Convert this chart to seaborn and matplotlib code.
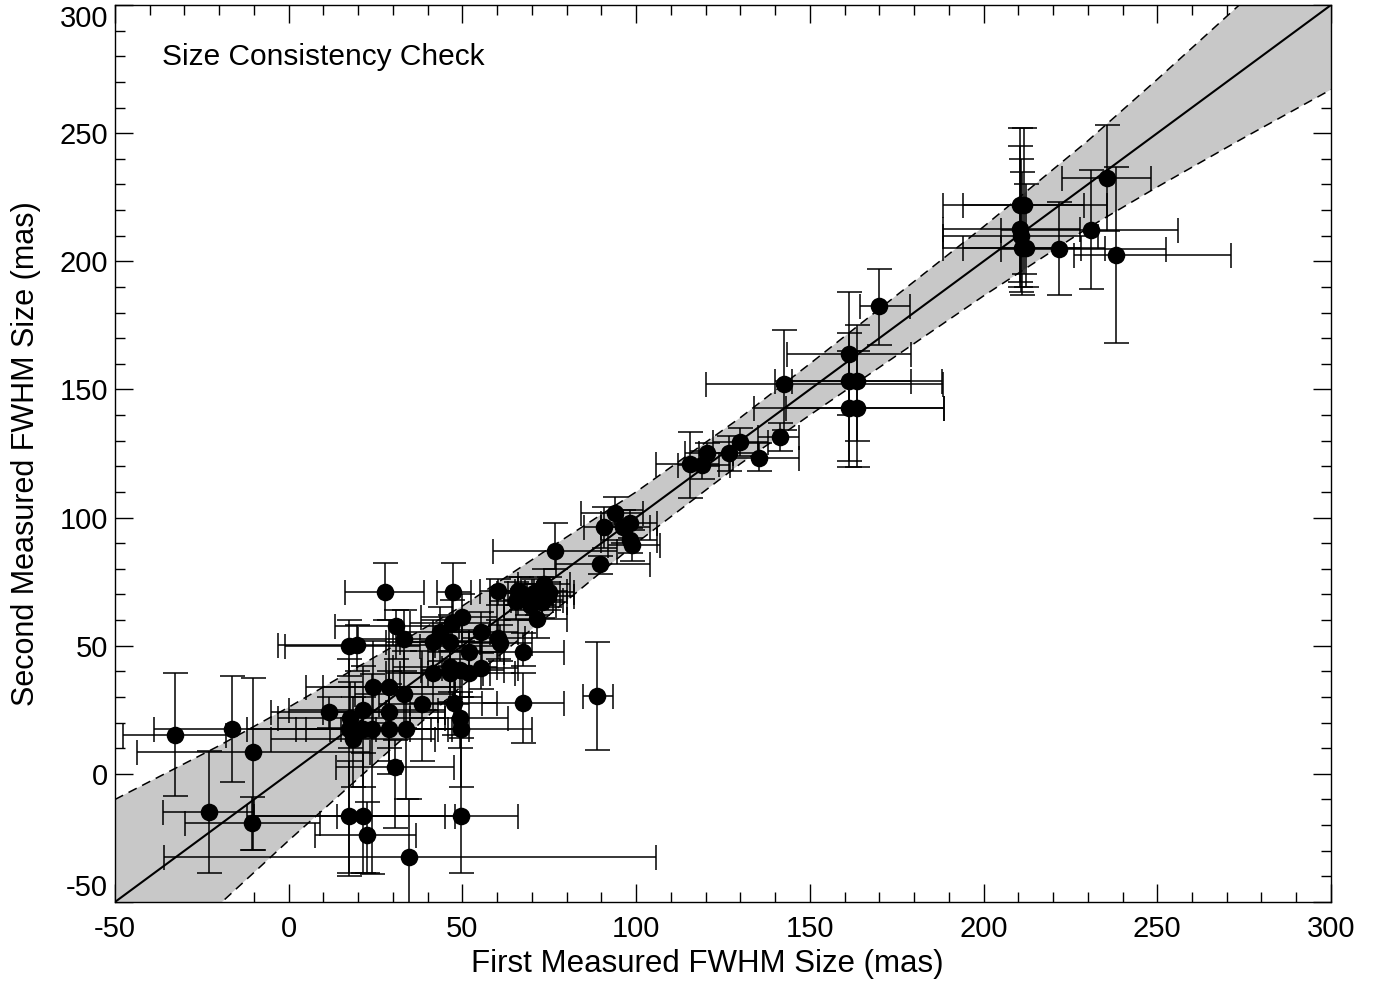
# Size consistency check: first vs second measured FWHM size
import numpy as np
import pandas as pd
import matplotlib
matplotlib.use('Agg')
import matplotlib.pyplot as plt
from matplotlib.ticker import MultipleLocator, FixedLocator
import seaborn as sns

# measured sizes (mas)
first_size = [-32.7, -16.2, -10.3, -22.9, -10.5,
              17.4, 19.8, 17.6, 21.5, 17.4, 21.5, 24.0, 18.6, 24.2, 29.0,
              29.0, 29.0, 33.8, 30.6, 17.4, 21.5, 22.6, 34.7, 49.5, 11.6,
              27.7, 47.4, 30.9, 33.2, 33.3, 38.3, 41.6, 47.5, 49.4, 49.5,
              49.8, 47.1, 43.6, 41.6, 46.4, 55.4, 60.3, 60.8, 52.0, 55.4,
              46.4, 46.4, 49.3, 51.9, 60.3, 67.5, 67.5, 71.5, 76.7, 88.8,
              89.6, 93.8, 90.8, 96.3, 98.2, 98.2, 98.7,
              65.5, 67.0, 68.5, 69.5, 70.5, 71.5, 72.5, 73.5, 74.5, 75.0, 73.0, 66.0,
              115.5, 119.0, 120.3, 126.8, 129.9, 135.5, 141.4, 161.4, 163.7, 161.3,
              163.7, 161.3, 142.6, 169.9, 210.5, 211.7, 210.5, 210.7, 211.2, 212.2,
              221.8, 230.9, 235.4, 238.1]
second_size = [15.3, 17.4, 8.7, -15.0, -19.2,
               49.9, 50.3, 21.7, 24.8, 17.5, 17.5, 17.5, 13.7, 34.0, 34.0,
               24.0, 17.5, 17.5, 2.6, -16.3, -16.3, -24.0, -32.5, -16.4, 24.1,
               71.1, 71.1, 57.7, 52.8, 31.2, 27.4, 39.3, 27.6, 21.7, 17.4,
               61.3, 59.0, 55.5, 51.4, 51.6, 55.3, 53.2, 51.0, 47.7, 41.4,
               41.8, 39.3, 40.6, 39.3, 71.3, 47.7, 27.6, 60.3, 87.0, 30.4,
               81.8, 101.7, 96.5, 96.5, 97.8, 91.3, 89.3,
               67.5, 70.5, 68.0, 66.0, 70.5, 68.0, 71.5, 74.0, 69.5, 71.0, 67.0, 71.5,
               120.8, 120.5, 125.1, 125.1, 129.4, 123.4, 131.6, 142.6, 142.6, 153.3,
               153.3, 163.8, 152.1, 182.5, 222.0, 222.0, 212.5, 210.0, 205.0, 205.0,
               204.8, 212.4, 232.6, 202.3]

# error bar extents (absolute low / high ends)
first_lo = [-47.6, -38.8, -43.6, -36.1, -29.9,
            -1.0, -3.0, -3.0, 0.0, -12.0, 2.0, 5.0, -5.0, 5.0, 10.0,
            10.0, 12.0, 15.0, 13.6, -12.0, -10.0, 7.6, -36.0, 14.0, -5.0,
            16.2, 42.6, 13.3, 20.0, 19.0, 26.0, 28.0, 35.0, 35.0, 35.0,
            38.0, 35.0, 30.0, 28.0, 32.0, 45.0, 50.0, 52.0, 40.0, 44.0,
            30.0, 32.0, 38.0, 40.0, 55.0, 55.5, 55.5, 62.0, 58.8, 84.7,
            77.0, 84.0, 85.0, 90.0, 90.0, 90.0, 92.0,
            58.0, 60.0, 62.0, 62.0, 63.0, 64.0, 65.0, 66.0, 67.0, 68.0, 66.0, 58.0,
            105.6, 112.0, 114.0, 118.0, 122.0, 128.0, 135.0, 134.0, 143.0, 140.0,
            145.0, 143.4, 120.1, 164.4, 188.4, 194.0, 188.4, 188.4, 188.4, 194.0,
            205.0, 205.0, 222.7, 226.0]
first_hi = [-18.0, 25.0, 23.4, -10.0, 9.0,
            37.8, 42.0, 45.0, 43.0, 47.0, 41.0, 43.0, 42.0, 50.0, 48.0,
            45.0, 46.0, 52.0, 47.6, 48.0, 45.0, 36.6, 105.7, 66.0, 28.0,
            39.0, 52.4, 49.0, 46.0, 48.0, 52.0, 56.0, 60.0, 63.0, 70.0,
            60.0, 58.0, 58.0, 55.0, 60.0, 66.0, 68.0, 70.0, 62.0, 66.0,
            60.0, 58.0, 62.0, 65.0, 70.0, 79.2, 79.2, 80.0, 94.5, 93.4,
            104.0, 102.0, 98.0, 104.0, 106.0, 106.0, 107.0,
            73.0, 75.0, 76.0, 77.0, 78.0, 79.0, 80.0, 81.0, 82.0, 82.0, 80.0, 73.0,
            124.0, 127.0, 128.0, 135.0, 138.0, 147.0, 147.0, 188.6, 188.6, 179.0,
            188.0, 179.0, 188.3, 178.8, 235.4, 229.0, 227.8, 233.0, 235.0, 228.0,
            252.5, 256.0, 248.1, 271.2]
second_lo = [-8.5, -3.0, -29.6, -38.5, -29.6,
             38.0, 40.0, 10.0, 14.0, -40.0, -5.0, -39.0, -5.0, 20.0, 10.0,
             5.0, 0.0, -10.0, -21.2, -38.5, -38.5, -38.5, -60.0, -38.5, 18.0,
             60.0, 59.0, 45.0, 40.0, 18.0, 5.0, 25.0, 15.0, 10.0, -5.0,
             52.0, 48.0, 44.0, 40.0, 42.0, 47.0, 45.0, 44.0, 38.0, 33.0,
             32.0, 28.0, 30.0, 30.0, 66.0, 42.0, 12.0, 53.0, 80.0, 9.4,
             78.0, 97.0, 88.0, 90.0, 92.0, 86.0, 83.0,
             60.0, 64.0, 62.0, 60.0, 65.0, 62.0, 66.0, 68.0, 64.0, 65.0, 61.0, 66.0,
             107.8, 115.0, 120.0, 118.0, 124.0, 118.0, 126.0, 119.9, 119.9, 122.0,
             130.0, 140.0, 134.0, 167.3, 192.0, 195.0, 190.0, 188.0, 187.0, 190.0,
             186.8, 189.2, 212.0, 168.0]
second_hi = [39.3, 38.0, 37.3, 9.0, -9.1,
             60.0, 58.0, 36.0, 42.0, 45.0, 30.0, 39.0, 30.0, 52.0, 60.0,
             40.0, 35.0, 34.0, 13.3, 5.0, 8.0, -11.0, -10.0, 14.0, 30.0,
             82.2, 82.2, 64.0, 64.0, 48.0, 48.0, 52.0, 45.0, 32.0, 30.0,
             70.0, 68.0, 65.0, 60.0, 62.0, 63.0, 60.0, 58.0, 56.0, 50.0,
             50.0, 48.0, 50.0, 48.0, 76.0, 55.0, 39.4, 67.0, 98.0, 51.5,
             85.0, 108.0, 104.0, 103.0, 103.0, 96.0, 95.0,
             75.0, 77.0, 74.0, 72.0, 76.0, 74.0, 77.0, 80.0, 75.0, 77.0, 73.0, 77.0,
             133.5, 126.0, 129.0, 132.0, 135.0, 129.0, 136.8, 165.0, 165.0, 172.0,
             175.0, 188.0, 173.0, 197.0, 252.0, 252.0, 245.0, 240.0, 235.0, 230.0,
             223.0, 235.6, 253.0, 236.6]

# one-to-one line and its shaded tolerance band
band_x = [-50, -20, 0, 50, 75, 100, 130, 150, 200, 230, 250, 274, 300]
band_upper = [-10.0, 11.0, 26.0, 65.5, 88.0, 110.0, 139.0, 160.0, 213.5, 247.0, 271.0, 300.5, 333.0]
band_lower = [-90.0, -51.0, -26.0, 34.5, 62.0, 90.0, 121.0, 140.0, 186.5, 213.0, 229.0, 247.5, 267.0]

major_ticks = [-50, 0, 50, 100, 150, 200, 250, 300]

df = pd.DataFrame({'first': first_size, 'second': second_size,
                   'first_lo': first_lo, 'first_hi': first_hi,
                   'second_lo': second_lo, 'second_hi': second_hi})
xerr = [df['first'] - df['first_lo'], df['first_hi'] - df['first']]
yerr = [df['second'] - df['second_lo'], df['second_hi'] - df['second']]

sns.set_style('ticks')
plt.rcParams['font.family'] = ['Liberation Sans', 'DejaVu Sans']
plt.rcParams['axes.unicode_minus'] = False
plt.rcParams['text.color'] = 'black'
plt.rcParams['axes.labelcolor'] = 'black'

fig = plt.figure(figsize=(13.85, 9.83), dpi=100)
ax = fig.add_axes([0.083, 0.0824, 0.878, 0.9125])

ax.fill_between(band_x, band_lower, band_upper, color='#c8c8c8', lw=0, zorder=1)
ax.plot(band_x, band_upper, color='black', ls=(0, (6, 4)), lw=1.1, zorder=2)
ax.plot(band_x, band_lower, color='black', ls=(0, (6, 4)), lw=1.1, zorder=2)
ax.plot([-50, 300], [-50, 300], color='black', lw=1.5, zorder=2)

ax.errorbar(df['first'], df['second'], xerr=xerr, yerr=yerr, fmt='none',
            ecolor='black', elinewidth=1.1, capsize=9, capthick=1.1, zorder=3)
sns.scatterplot(data=df, x='first', y='second', ax=ax, color='black', s=160,
                edgecolor='black', linewidth=0, zorder=4, legend=False)

ax.set_xlim(-50, 300)
ax.set_ylim(-50, 300)
ax.xaxis.set_major_locator(FixedLocator(major_ticks))
ax.yaxis.set_major_locator(FixedLocator(major_ticks))
ax.xaxis.set_minor_locator(MultipleLocator(10))
ax.yaxis.set_minor_locator(MultipleLocator(10))
ax.tick_params(which='both', direction='in', top=True, right=True,
               labelsize=21, width=1.0, color='black', labelcolor='black')
ax.tick_params(which='major', length=13)
ax.tick_params(axis='x', which='major', pad=9)
ax.tick_params(axis='y', which='major', pad=5)
ax.tick_params(which='minor', length=7)
for sp in ax.spines.values():
    sp.set_linewidth(1.0)
    sp.set_color('black')

fig.canvas.draw()
ylabels = ax.get_yticklabels()
ylabels[-1].set_va('top')
ylabels[0].set_va('bottom')

ax.set_xlabel('First Measured FWHM Size (mas)', fontsize=22.5)
ax.xaxis.set_label_coords(0.487, -0.052)
ax.set_ylabel('Second Measured FWHM Size (mas)', fontsize=22)
ax.yaxis.set_label_coords(-0.061, 0.5)
ax.text(0.039, 0.958, 'Size Consistency Check', transform=ax.transAxes,
        fontsize=21.5, va='top', ha='left')

fig.savefig('out.png', dpi=100)
